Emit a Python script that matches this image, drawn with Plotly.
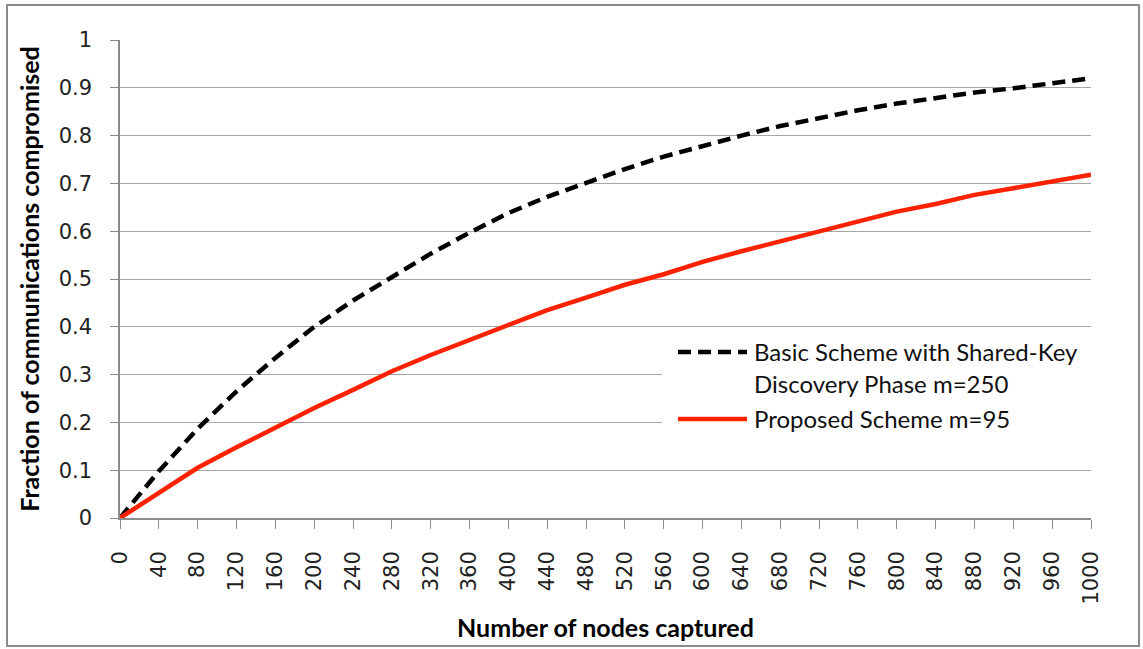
import plotly.graph_objects as go

nodes = [0, 40, 80, 120, 160, 200, 240, 280, 320, 360, 400, 440, 480, 520,
         560, 600, 640, 680, 720, 760, 800, 840, 880, 920, 960, 1000]
basic = [0, 0.098, 0.187, 0.265, 0.335, 0.400, 0.455, 0.505, 0.553, 0.597,
         0.638, 0.672, 0.702, 0.730, 0.756, 0.779, 0.800, 0.820, 0.837, 0.853,
         0.867, 0.879, 0.890, 0.899, 0.910, 0.920]
proposed = [0, 0.053, 0.105, 0.148, 0.190, 0.230, 0.268, 0.307, 0.341, 0.373,
            0.405, 0.435, 0.461, 0.488, 0.510, 0.536, 0.558, 0.579, 0.600, 0.620,
            0.641, 0.657, 0.676, 0.690, 0.705, 0.718]
series_names = ["Basic Scheme with Shared-Key Discovery Phase m=250", "Proposed Scheme m=95"]
legend_lines = [["Basic Scheme with Shared-Key", "Discovery Phase m=250"], ["Proposed Scheme m=95"]]
x_title = "Number of nodes captured"
y_title = "Fraction of communications compromised"

BLACK = "#000000"
RED = "#ff2200"
GRID = "#a6a6a6"
AXIS = "#8c8c8c"
TXT_FONT = "Lato, Open Sans, sans-serif"
TICK_FONT = "DejaVu Sans, sans-serif"
DASH = "13px,7px"

fig = go.Figure()
fig.add_trace(go.Scatter(x=nodes, y=basic, name=series_names[0], mode="lines",
                         line=dict(color=BLACK, width=4.5, dash=DASH), showlegend=False))
fig.add_trace(go.Scatter(x=nodes, y=proposed, name=series_names[1], mode="lines",
                         line=dict(color=RED, width=4.5), showlegend=False))

# page body margin is removed via post_script, so the figure sits at (0,0)
OFF = 0
W, H = 1143, 649
PL, PR, PT, PB = 120, 1091, 40, 518   # plot area in page pixels
L, T = PL - OFF, PT - OFF
R = W - (PR - OFF)
B = H - (PB - OFF)
pw, ph = PR - PL, PB - PT

def px(xp):
    return (xp - PL) / pw

def py(yp):
    return (PB - yp) / ph

shapes = []
# outer chart border
shapes.append(dict(type="rect", xref="paper", yref="paper",
                   x0=px(7), x1=px(1139), y0=py(646), y1=py(5),
                   line=dict(color=AXIS, width=2), fillcolor="rgba(0,0,0,0)", layer="above"))
# legend background
shapes.append(dict(type="rect", xref="paper", yref="paper",
                   x0=px(662), x1=1.0, y0=py(440), y1=py(334),
                   line=dict(width=0), fillcolor="white", layer="above"))
# legend samples
shapes.append(dict(type="line", xref="paper", yref="paper",
                   x0=px(678), x1=px(747), y0=py(352), y1=py(352),
                   line=dict(color=BLACK, width=4.5, dash=DASH), layer="above"))
shapes.append(dict(type="line", xref="paper", yref="paper",
                   x0=px(678), x1=px(747), y0=py(419), y1=py(419),
                   line=dict(color=RED, width=4.5), layer="above"))

annotations = []
leg_y = [[351, 383], [418]]
for lines, ys in zip(legend_lines, leg_y):
    for t, yy in zip(lines, ys):
        annotations.append(dict(text=t, xref="paper", yref="paper", x=px(752), y=py(yy),
                                xanchor="left", yanchor="middle", showarrow=False,
                                font=dict(family=TXT_FONT, size=24, color="#111111")))

fig.update_layout(
    width=W, height=H,
    margin=dict(l=L, r=R, t=T, b=B, pad=0),
    paper_bgcolor="white", plot_bgcolor="white",
    shapes=shapes, annotations=annotations,
    showlegend=False,
)
fig.update_xaxes(range=[0, 1000], tickvals=nodes, ticktext=[str(v) for v in nodes],
                 tickangle=-90, ticks="outside", ticklen=9, tickcolor=AXIS, tickwidth=1,
                 ticklabelstandoff=14,
                 showline=True, linecolor=AXIS, linewidth=1.5, showgrid=False, zeroline=False,
                 tickfont=dict(family=TICK_FONT, size=21, color="#222222"),
                 title=dict(text="<b>" + x_title + "</b>", standoff=16,
                            font=dict(family=TXT_FONT, size=25, color="#000000")))
fig.update_yaxes(range=[0, 1], dtick=0.1, tickformat="~g", ticks="outside", ticklen=8,
                 tickcolor=AXIS, tickwidth=1, ticklabelstandoff=14,
                 showline=True, linecolor=AXIS, linewidth=1.5,
                 showgrid=True, gridcolor=GRID, gridwidth=1, zeroline=False,
                 tickfont=dict(family=TICK_FONT, size=21, color="#222222"),
                 title=dict(text="<b>" + y_title + "</b>", standoff=12,
                            font=dict(family=TXT_FONT, size=25, color="#000000")))

fig.write_html("out.html",
               config={"displayModeBar": False},
               post_script="document.body.style.margin='0';document.body.style.overflow='hidden';")
